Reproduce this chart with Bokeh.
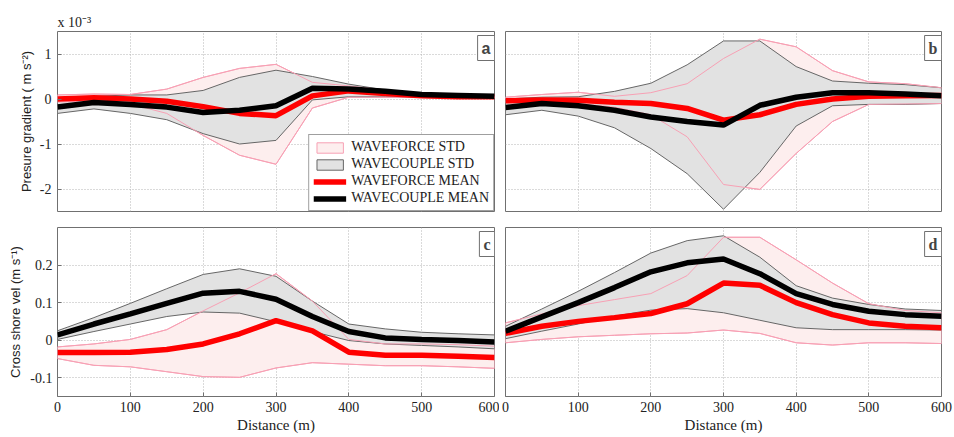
from bokeh.plotting import figure
from bokeh.layouts import gridplot
from bokeh.models import FixedTicker, Legend, LegendItem, Label
from bokeh.embed import file_html
from bokeh.resources import INLINE

# ---------------- data ----------------
distance = [0, 50, 100, 150, 200, 250, 300, 350, 400, 450, 500, 550, 600]

# Panel a: pressure gradient (x 1e-3 m s^-2)
wf_mean_a = [0.0, 0.03, 0.0, -0.05, -0.17, -0.32, -0.37, 0.07, 0.18, 0.12, 0.07, 0.05, 0.05]
wc_mean_a = [-0.18, -0.08, -0.12, -0.18, -0.30, -0.25, -0.15, 0.24, 0.22, 0.17, 0.10, 0.08, 0.06]
wf_up_a = [0.09, 0.11, 0.10, 0.22, 0.48, 0.68, 0.77, 0.37, 0.29, 0.20, 0.12, 0.07, 0.05]
wf_lo_a = [-0.07, -0.04, -0.11, -0.32, -0.81, -1.25, -1.45, -0.20, 0.04, 0.04, 0.04, 0.04, 0.03]
wc_up_a = [-0.04, 0.06, 0.09, 0.09, 0.19, 0.48, 0.64, 0.50, 0.33, 0.20, 0.12, 0.08, 0.06]
wc_lo_a = [-0.32, -0.22, -0.32, -0.46, -0.77, -1.00, -0.92, -0.02, 0.05, 0.05, 0.04, 0.04, 0.04]

# Panel b: pressure gradient (x 1e-3 m s^-2)
wf_mean_b = [-0.04, -0.02, -0.03, -0.07, -0.10, -0.21, -0.47, -0.35, -0.12, 0.00, 0.06, 0.07, 0.08]
wc_mean_b = [-0.19, -0.10, -0.15, -0.25, -0.40, -0.50, -0.58, -0.14, 0.04, 0.14, 0.14, 0.11, 0.07]
wf_up_b = [0.04, 0.10, 0.15, 0.06, 0.14, 0.34, 0.90, 1.33, 1.16, 0.63, 0.38, 0.34, 0.25]
wf_lo_b = [-0.07, -0.10, -0.10, -0.18, -0.35, -0.84, -1.90, -2.01, -1.21, -0.50, -0.12, -0.11, -0.10]
wc_up_b = [0.00, 0.04, 0.05, 0.17, 0.35, 0.76, 1.29, 1.29, 0.72, 0.40, 0.35, 0.32, 0.25]
wc_lo_b = [-0.35, -0.25, -0.38, -0.64, -1.10, -1.66, -2.45, -1.63, -0.60, -0.15, -0.12, -0.12, -0.10]

# Panel c: cross shore velocity (m s^-1)
wf_mean_c = [-0.033, -0.033, -0.032, -0.025, -0.010, 0.017, 0.052, 0.025, -0.032, -0.040, -0.040, -0.043, -0.046]
wc_mean_c = [0.014, 0.043, 0.070, 0.098, 0.125, 0.130, 0.109, 0.063, 0.023, 0.006, 0.002, -0.001, -0.005]
wf_up_c = [-0.018, -0.010, 0.002, 0.028, 0.078, 0.126, 0.177, 0.104, 0.002, -0.010, -0.010, -0.012, -0.016]
wf_lo_c = [-0.049, -0.067, -0.071, -0.084, -0.097, -0.099, -0.074, -0.060, -0.064, -0.068, -0.068, -0.071, -0.075]
wc_up_c = [0.025, 0.060, 0.098, 0.137, 0.175, 0.190, 0.170, 0.104, 0.043, 0.030, 0.021, 0.017, 0.014]
wc_lo_c = [0.002, 0.023, 0.043, 0.063, 0.075, 0.072, 0.049, 0.023, -0.001, -0.010, -0.014, -0.018, -0.023]

# Panel d: cross shore velocity (m s^-1)
wf_mean_d = [0.018, 0.037, 0.050, 0.060, 0.071, 0.097, 0.152, 0.146, 0.100, 0.068, 0.046, 0.037, 0.033]
wc_mean_d = [0.024, 0.062, 0.100, 0.140, 0.182, 0.206, 0.216, 0.177, 0.124, 0.095, 0.077, 0.068, 0.064]
wf_up_d = [0.046, 0.070, 0.092, 0.108, 0.124, 0.172, 0.274, 0.274, 0.214, 0.152, 0.097, 0.079, 0.073]
wf_lo_d = [-0.007, 0.002, 0.009, 0.013, 0.017, 0.019, 0.027, 0.018, -0.007, -0.013, -0.007, -0.007, -0.009]
wc_up_d = [0.037, 0.083, 0.130, 0.180, 0.232, 0.265, 0.278, 0.221, 0.145, 0.112, 0.095, 0.083, 0.079]
wc_lo_d = [0.004, 0.024, 0.043, 0.064, 0.080, 0.084, 0.073, 0.053, 0.033, 0.028, 0.028, 0.028, 0.027]

x_ticks = [0, 100, 200, 300, 400, 500, 600]
x_tick_labels = ["0", "100", "200", "300", "400", "500", "600"]
pg_ticks = [-2, -1, 0, 1]
pg_tick_labels = ["-2", "-1", "0", "1"]
vel_ticks = [-0.1, 0, 0.1, 0.2]
vel_tick_labels = ["-0.1", "0", "0.1", "0.2"]

legend_labels = ["WAVEFORCE STD", "WAVECOUPLE STD", "WAVEFORCE MEAN", "WAVECOUPLE MEAN"]

# ---------------- styling ----------------
PINK_FILL = "#fdeeee"
PINK_EDGE = "#f7a0b4"
GRAY_FILL = "#e2e2e2"
GRAY_EDGE = "#666666"
FRAME = "#707070"
SERIF = "Liberation Serif"
SANS = "Liberation Sans"


def make_panel(letter, yr, wf_mean, wc_mean, wf_up, wf_lo, wc_up, wc_lo,
               left, right, top, bottom, fw, fh, yticks, ylabels,
               show_y, show_x, ylabel=None, letter_font=SERIF):
    p = figure(width=left + fw + right, height=top + fh + bottom,
               x_range=(0, 600), y_range=yr,
               output_backend="svg", toolbar_location=None,
               min_border_left=left, min_border_right=right,
               min_border_top=top, min_border_bottom=bottom)
    p.outline_line_color = FRAME
    p.outline_line_width = 1
    p.background_fill_color = "white"
    p.border_fill_color = "white"
    for g in (p.xgrid, p.ygrid):
        g.grid_line_color = "#b5b5b5"
        g.grid_line_dash = "1 2"
        g.grid_line_width = 1
    p.xgrid.ticker = FixedTicker(ticks=x_ticks)
    p.ygrid.ticker = FixedTicker(ticks=yticks)

    # x axis
    if show_x:
        ax = p.xaxis[0]
        ax.ticker = FixedTicker(ticks=x_ticks)
        ax.major_label_overrides = dict(zip(x_ticks, x_tick_labels))
        ax.axis_line_color = None
        ax.major_tick_in = 4
        ax.major_tick_out = 0
        ax.major_tick_line_color = FRAME
        ax.minor_tick_line_color = None
        ax.major_label_text_font = SERIF
        ax.major_label_text_font_size = "14px"
        ax.major_label_text_color = "#222222"
        ax.major_label_standoff = 5
        ax.axis_label = "Distance (m)"
        ax.axis_label_text_font = SERIF
        ax.axis_label_text_font_size = "15px"
        ax.axis_label_text_font_style = "normal"
        ax.axis_label_text_color = "#222222"
        ax.axis_label_standoff = 2
    else:
        p.xaxis.visible = False

    if show_y:
        ay = p.yaxis[0]
        ay.ticker = FixedTicker(ticks=yticks)
        ay.major_label_overrides = dict(zip(yticks, ylabels))
        ay.axis_line_color = None
        ay.major_tick_in = 4
        ay.major_tick_out = 0
        ay.major_tick_line_color = FRAME
        ay.minor_tick_line_color = None
        ay.major_label_text_font = SERIF
        ay.major_label_text_font_size = "14px"
        ay.major_label_text_color = "#222222"
        ay.major_label_standoff = 6
        ay.axis_label = ylabel
        ay.axis_label_text_font = SANS
        ay.axis_label_text_font_size = "13px"
        ay.axis_label_text_font_style = "normal"
        ay.axis_label_text_color = "#222222"
        ay.axis_label_standoff = 3
    else:
        p.yaxis.visible = False

    # STD bands
    poly_x = distance + distance[::-1]
    r_wf_std = p.patch(poly_x, wf_up + wf_lo[::-1], fill_color=PINK_FILL,
                       line_color=PINK_EDGE, line_width=1)
    r_wc_std = p.patch(poly_x, wc_up + wc_lo[::-1], fill_color=GRAY_FILL,
                       line_color=GRAY_EDGE, line_width=1)
    p.line(distance, wf_up, line_color=PINK_EDGE, line_width=1)
    p.line(distance, wf_lo, line_color=PINK_EDGE, line_width=1)
    # means
    r_wf_mean = p.line(distance, wf_mean, line_color="#ff0000", line_width=5.5)
    r_wc_mean = p.line(distance, wc_mean, line_color="#000000", line_width=5.5)

    lab = Label(x=600, y=yr[1], text=letter, text_align="right", text_baseline="top",
                x_offset=0, y_offset=-4, text_font=letter_font,
                text_font_size="16px", text_font_style="bold",
                background_fill_color="white", border_line_color=FRAME,
                border_line_width=1, padding=4)
    p.add_layout(lab)
    return p, [r_wf_std, r_wc_std, r_wf_mean, r_wc_mean]


LEFT, FW_A, RIGHT_A = 57, 437, 5
LEFT_B, FW_B, RIGHT_B = 6, 436, 13
TOP_ROW_TOP, FH1, TOP_ROW_BOT = 31, 180, 8
BOT_ROW_TOP, FH2, BOT_ROW_BOT = 8, 169, 41

pa, rends = make_panel("a", (-2.5, 1.5), wf_mean_a, wc_mean_a, wf_up_a, wf_lo_a, wc_up_a, wc_lo_a,
                       LEFT, RIGHT_A, TOP_ROW_TOP, TOP_ROW_BOT, FW_A, FH1,
                       pg_ticks, pg_tick_labels, True, False,
                       ylabel="Presure gradient ( m s\u207b\u00b2)", letter_font=SANS)
pb, _ = make_panel("b", (-2.5, 1.5), wf_mean_b, wc_mean_b, wf_up_b, wf_lo_b, wc_up_b, wc_lo_b,
                   LEFT_B, RIGHT_B, TOP_ROW_TOP, TOP_ROW_BOT, FW_B, FH1,
                   pg_ticks, pg_tick_labels, False, False)
pc, _ = make_panel("c", (-0.15, 0.3), wf_mean_c, wc_mean_c, wf_up_c, wf_lo_c, wc_up_c, wc_lo_c,
                   LEFT, RIGHT_A, BOT_ROW_TOP, BOT_ROW_BOT, FW_A, FH2,
                   vel_ticks, vel_tick_labels, True, True,
                   ylabel="Cross shore vel (m s\u207b\u00b9)")
pd_, _ = make_panel("d", (-0.15, 0.3), wf_mean_d, wc_mean_d, wf_up_d, wf_lo_d, wc_up_d, wc_lo_d,
                    LEFT_B, RIGHT_B, BOT_ROW_TOP, BOT_ROW_BOT, FW_B, FH2,
                    vel_ticks, vel_tick_labels, False, True)
pc.yaxis[0].major_label_standoff = 5
pc.yaxis[0].axis_label_standoff = 4

# exponent note above panel a
pa.title.text = "x 10\u207b\u00b3"
pa.title.text_font = SERIF
pa.title.text_font_size = "14px"
pa.title.text_font_style = "normal"
pa.title.text_color = "#222222"
pa.title.align = "left"
pa.title.standoff = 3

legend = Legend(items=[LegendItem(label=lbl, renderers=[r]) for lbl, r in zip(legend_labels, rends)],
                location="bottom_right", margin=0, padding=4, spacing=1,
                glyph_width=33, glyph_height=13, label_height=13, label_standoff=5,
                label_text_font=SERIF, label_text_font_size="14px", label_text_color="#222222",
                border_line_color="#404040", border_line_width=1,
                background_fill_color="white", background_fill_alpha=1.0)
pa.add_layout(legend)

grid = gridplot([[pa, pb], [pc, pd_]], toolbar_location=None)

open("out.html", "w").write(file_html(grid, INLINE))
